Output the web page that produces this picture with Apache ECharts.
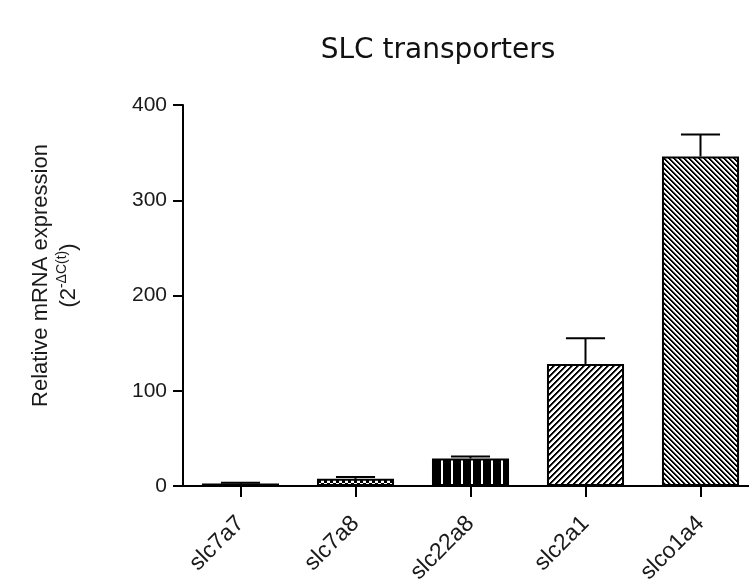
<!DOCTYPE html>
<html>
<head>
<meta charset="utf-8">
<script src="https://cdn.jsdelivr.net/npm/echarts@6/dist/echarts.min.js"></script>
<style>
  html, body { margin: 0; padding: 0; background: #fff; }
  #chart { width: 749px; height: 586px; }
</style>
</head>
<body>
<div id="chart"></div>
<script>
// Relative mRNA expression of SLC transporters (mean + SEM)
const genes = ['slc7a7', 'slc7a8', 'slc22a8', 'slc2a1', 'slco1a4'];
const expression = [2.5, 7.5, 29, 128, 346];
const sem = [1, 2, 2, 27, 23];
const yTicks = [0, 100, 200, 300, 400];

// Small canvas tiles used as bar fill patterns
function tile(w, h, paint) {
  const c = document.createElement('canvas');
  c.width = w; c.height = h;
  const ctx = c.getContext('2d');
  ctx.fillStyle = '#fff';
  ctx.fillRect(0, 0, w, h);
  for (let y = 0; y < h; y++) {
    for (let x = 0; x < w; x++) {
      const col = paint(x, y);
      if (col) { ctx.fillStyle = col; ctx.fillRect(x, y, 1, 1); }
    }
  }
  return c;
}
const checker = tile(6, 6, (x, y) => ((Math.floor(x / 3) + Math.floor(y / 3)) % 2 === 0 ? '#000' : null));
const vStripes = tile(10, 1, (x) => (x % 10 === 1 || x % 10 === 2 ? null : '#000'));
const slashes = tile(6, 6, (x, y) => {
  const k = (x + y) % 6;
  return k < 2 ? '#000' : (k === 2 ? '#777' : null);
});
const backslashes = tile(5, 5, (x, y) => {
  const k = ((x - y) % 5 + 5) % 5;
  return k < 2 ? '#000' : (k === 2 ? '#999' : null);
});

const fills = [
  '#000',
  { image: checker, repeat: 'repeat' },
  { image: vStripes, repeat: 'repeat' },
  { image: slashes, repeat: 'repeat' },
  { image: backslashes, repeat: 'repeat' }
];

const chart = echarts.init(document.getElementById('chart'), null, { renderer: 'canvas' });

const axisFont = 'Liberation Sans, Arial, sans-serif';

chart.setOption({
  backgroundColor: '#fff',
  animation: false,
  graphic: [{
    type: 'text',
    x: 438,
    y: 51,
    style: {
      text: 'SLC transporters',
      font: '28px "DejaVu Sans", sans-serif',
      fill: '#111',
      align: 'center',
      verticalAlign: 'middle'
    }
  }],
  grid: {
    left: 183,
    right: -9,
    top: 105,
    bottom: 100,
    outerBoundsMode: 'none'
  },
  xAxis: {
    type: 'category',
    data: genes,
    axisLine: { show: true, lineStyle: { color: '#000', width: 2 } },
    axisTick: { show: true, alignWithLabel: true, length: 11, lineStyle: { color: '#000', width: 2 } },
    axisLabel: {
      rotate: 45,
      margin: 34,
      fontSize: 23,
      fontFamily: axisFont,
      color: '#1a1a1a'
    }
  },
  yAxis: {
    type: 'value',
    min: 0,
    max: 400,
    interval: 100,
    splitLine: { show: false },
    axisLine: { show: true, lineStyle: { color: '#000', width: 2 } },
    axisTick: { show: true, length: 10, lineStyle: { color: '#000', width: 2 } },
    axisLabel: {
      margin: 16,
      fontSize: 21,
      fontFamily: axisFont,
      color: '#1a1a1a',
      formatter: (v) => (yTicks.indexOf(v) >= 0 ? String(v) : '')
    },
    name: '{l1|Relative mRNA expression}\n{l2|(2}{sup|-ΔC(t)}{l2|)}',
    nameLocation: 'middle',
    nameRotate: 90,
    nameGap: 100,
    nameTextStyle: {
      align: 'center',
      padding: [0, 0, 0, 40],
      rich: {
        l1: { fontSize: 22, fontFamily: axisFont, color: '#1a1a1a', lineHeight: 28 },
        l2: { fontSize: 22, fontFamily: axisFont, color: '#1a1a1a', lineHeight: 28 },
        sup: { fontSize: 14, fontFamily: axisFont, color: '#1a1a1a', lineHeight: 28, verticalAlign: 'top', padding: [0, 0, 6, 0] }
      }
    }
  },
  series: [
    {
      type: 'bar',
      barWidth: '67%',
      data: expression.map((v, i) => ({
        value: v,
        itemStyle: { color: fills[i], borderColor: '#000', borderWidth: 2 }
      })),
      z: 2
    },
    {
      type: 'custom',
      z: 3,
      data: expression.map((v, i) => [i, v, sem[i]]),
      renderItem: function (params, api) {
        const i = api.value(0);
        const base = api.coord([i, api.value(1)]);
        const top = api.coord([i, api.value(1) + api.value(2)]);
        const half = api.size([1, 0])[0] * 0.17;
        const style = { stroke: '#000', lineWidth: 2 };
        return {
          type: 'group',
          children: [
            { type: 'line', shape: { x1: base[0], y1: base[1], x2: top[0], y2: top[1] }, style: style },
            { type: 'line', shape: { x1: top[0] - half, y1: top[1], x2: top[0] + half, y2: top[1] }, style: style }
          ]
        };
      }
    }
  ]
});
</script>
</body>
</html>
